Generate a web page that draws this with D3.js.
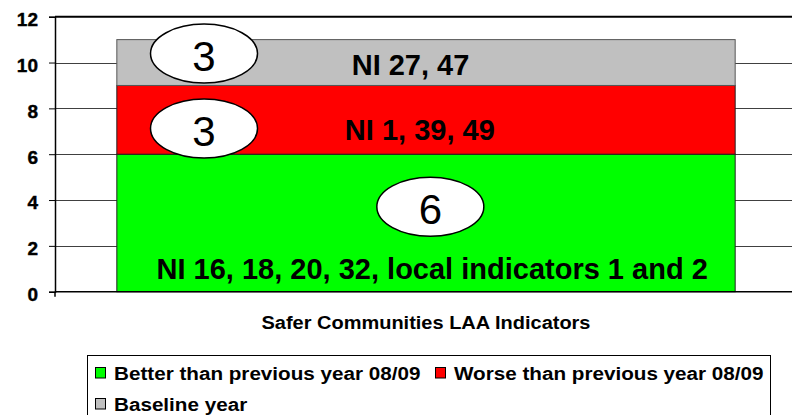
<!DOCTYPE html>
<html>
<head>
<meta charset="utf-8">
<script src="https://cdn.jsdelivr.net/npm/d3@7"></script>
<style>
  html, body { margin: 0; padding: 0; background: #fff; }
  svg { display: block; font-family: "Liberation Sans", Arial, sans-serif; }
</style>
</head>
<body>
<svg id="chart" width="792" height="415"></svg>
<script>
// ---- Data ----
const categories = ["Safer Communities LAA Indicators"];
const seriesNames = ["Better than previous year 08/09", "Worse than previous year 08/09", "Baseline year"];
const betterValues = [6];
const worseValues = [3];
const baselineValues = [2];
const yTickValues = [0, 2, 4, 6, 8, 10, 12];
const segmentLabels = ["NI 16, 18, 20, 32, local indicators 1 and 2", "NI 1, 39, 49", "NI 27, 47"];
const bubbleLabels = ["6", "3", "3"];

// annotation anchors (in data units / fraction of bar width)
const segLabelY = [0.98, 7.05, 9.91];
const segLabelXFrac = [0.51, 0.49, 0.475];
const bubbleY = [3.71, 7.12, 10.39];
const bubbleXFrac = [0.507, 0.141, 0.141];

const colors = ["#00FF00", "#FF0000", "#C0C0C0"];

// ---- Layout ----
const svg = d3.select("#chart");
const plot = { left: 55, right: 797, top: 16.7, bottom: 291.7 };

const x = d3.scaleBand().domain(categories).range([plot.left, plot.right]).paddingInner(0).paddingOuter(0.1);
const y = d3.scaleLinear().domain([0, 12]).range([plot.bottom, plot.top]);

const stack = d3.stack().keys([0, 1, 2]).value((d, k) => d.vals[k]);
const rows = categories.map((c, i) => ({ cat: c, vals: [betterValues[i], worseValues[i], baselineValues[i]] }));
const stacked = stack(rows);

// gridlines
svg.append("g").selectAll("line").data(yTickValues.filter(v => v > 0 && v < 12)).join("line")
  .attr("x1", plot.left).attr("x2", plot.right)
  .attr("y1", d => Math.round(y(d)) + 0.5).attr("y2", d => Math.round(y(d)) + 0.5)
  .attr("stroke", "#404040").attr("stroke-width", 1);

// top border
svg.append("line").attr("x1", plot.left).attr("x2", plot.right)
  .attr("y1", y(12)).attr("y2", y(12)).attr("stroke", "#000").attr("stroke-width", 2);

// bars
stacked.forEach((layer, si) => {
  svg.append("g").selectAll("rect").data(layer).join("rect")
    .attr("x", d => x(d.data.cat))
    .attr("width", x.bandwidth())
    .attr("y", d => y(d[1]))
    .attr("height", d => y(d[0]) - y(d[1]))
    .attr("fill", colors[si])
    .attr("stroke", si === 2 ? "#555" : "#222")
    .attr("stroke-width", 1);
});

// y axis
const yAxis = d3.axisLeft(y).tickValues(yTickValues).tickSize(6).tickPadding(11).tickFormat(d3.format("d"));
const gy = svg.append("g").attr("class", "yaxis").attr("transform", `translate(${plot.left},0)`).call(yAxis);
gy.attr("font-family", null).attr("font-size", null);
gy.select(".domain").attr("stroke", "#000").attr("stroke-width", 1.5);
gy.selectAll(".tick line").attr("stroke", "#000");
gy.selectAll("text")
  .attr("font-size", 19).attr("font-weight", "bold")
  .attr("fill", "#000").attr("stroke", "#000").attr("stroke-width", 0.4)
  .attr("dy", "0.47em");

// x axis baseline
svg.append("line").attr("x1", plot.left).attr("x2", plot.right)
  .attr("y1", y(0)).attr("y2", y(0)).attr("stroke", "#000").attr("stroke-width", 1.5);
svg.append("line").attr("x1", plot.left).attr("x2", plot.left)
  .attr("y1", y(0)).attr("y2", y(0) + 5).attr("stroke", "#000").attr("stroke-width", 1.5);

// segment labels
const barX0 = x(categories[0]);
const xIn = d3.scaleLinear().domain([0, 1]).range([barX0, barX0 + x.bandwidth()]);
svg.append("g").selectAll("text").data(segmentLabels).join("text")
  .attr("x", (d, i) => xIn(segLabelXFrac[i]))
  .attr("y", (d, i) => y(segLabelY[i]) + 10)
  .attr("text-anchor", "middle")
  .attr("font-size", 29).attr("font-weight", "bold").attr("fill", "#000")
  .text(d => d);

// bubbles with counts
const bub = svg.append("g").selectAll("g").data(bubbleLabels).join("g")
  .attr("transform", (d, i) => `translate(${xIn(bubbleXFrac[i])},${y(bubbleY[i])})`);
bub.append("ellipse").attr("rx", 53.5).attr("ry", 29.5)
  .attr("fill", "#fff").attr("stroke", "#000").attr("stroke-width", 1.5);
bub.append("text").attr("text-anchor", "middle").attr("y", 17)
  .attr("font-size", 42).attr("fill", "#000").text(d => d);

// helper for stretched text
function stretch(sel, factor) {
  sel.each(function () {
    const w = this.getComputedTextLength();
    d3.select(this).attr("textLength", w * factor).attr("lengthAdjust", "spacingAndGlyphs");
  });
}

// axis title
const title = svg.append("text")
  .attr("x", x(categories[0]) + x.bandwidth() / 2).attr("y", 329)
  .attr("text-anchor", "middle").attr("font-size", 18).attr("font-weight", "bold").attr("fill", "#000")
  .text(categories[0]);
stretch(title, 1.11);

// legend
const lg = svg.append("g");
lg.append("rect").attr("x", 87.5).attr("y", 355.5).attr("width", 683).attr("height", 70)
  .attr("fill", "#fff").attr("stroke", "#000").attr("stroke-width", 1);
const legendPos = [[95, 367.5], [435, 367.5], [95, 398.5]];
seriesNames.forEach((name, i) => {
  const [lx, ly] = legendPos[i];
  lg.append("rect").attr("x", lx + 0.5).attr("y", ly).attr("width", 10).attr("height", 10.5)
    .attr("fill", colors[i]).attr("stroke", "#000").attr("stroke-width", 1);
  const t = lg.append("text").attr("x", lx + 19).attr("y", ly + 12.5)
    .attr("font-size", 17.5).attr("font-weight", "bold").attr("fill", "#000").text(name);
  stretch(t, 1.18);
});
</script>
</body>
</html>
